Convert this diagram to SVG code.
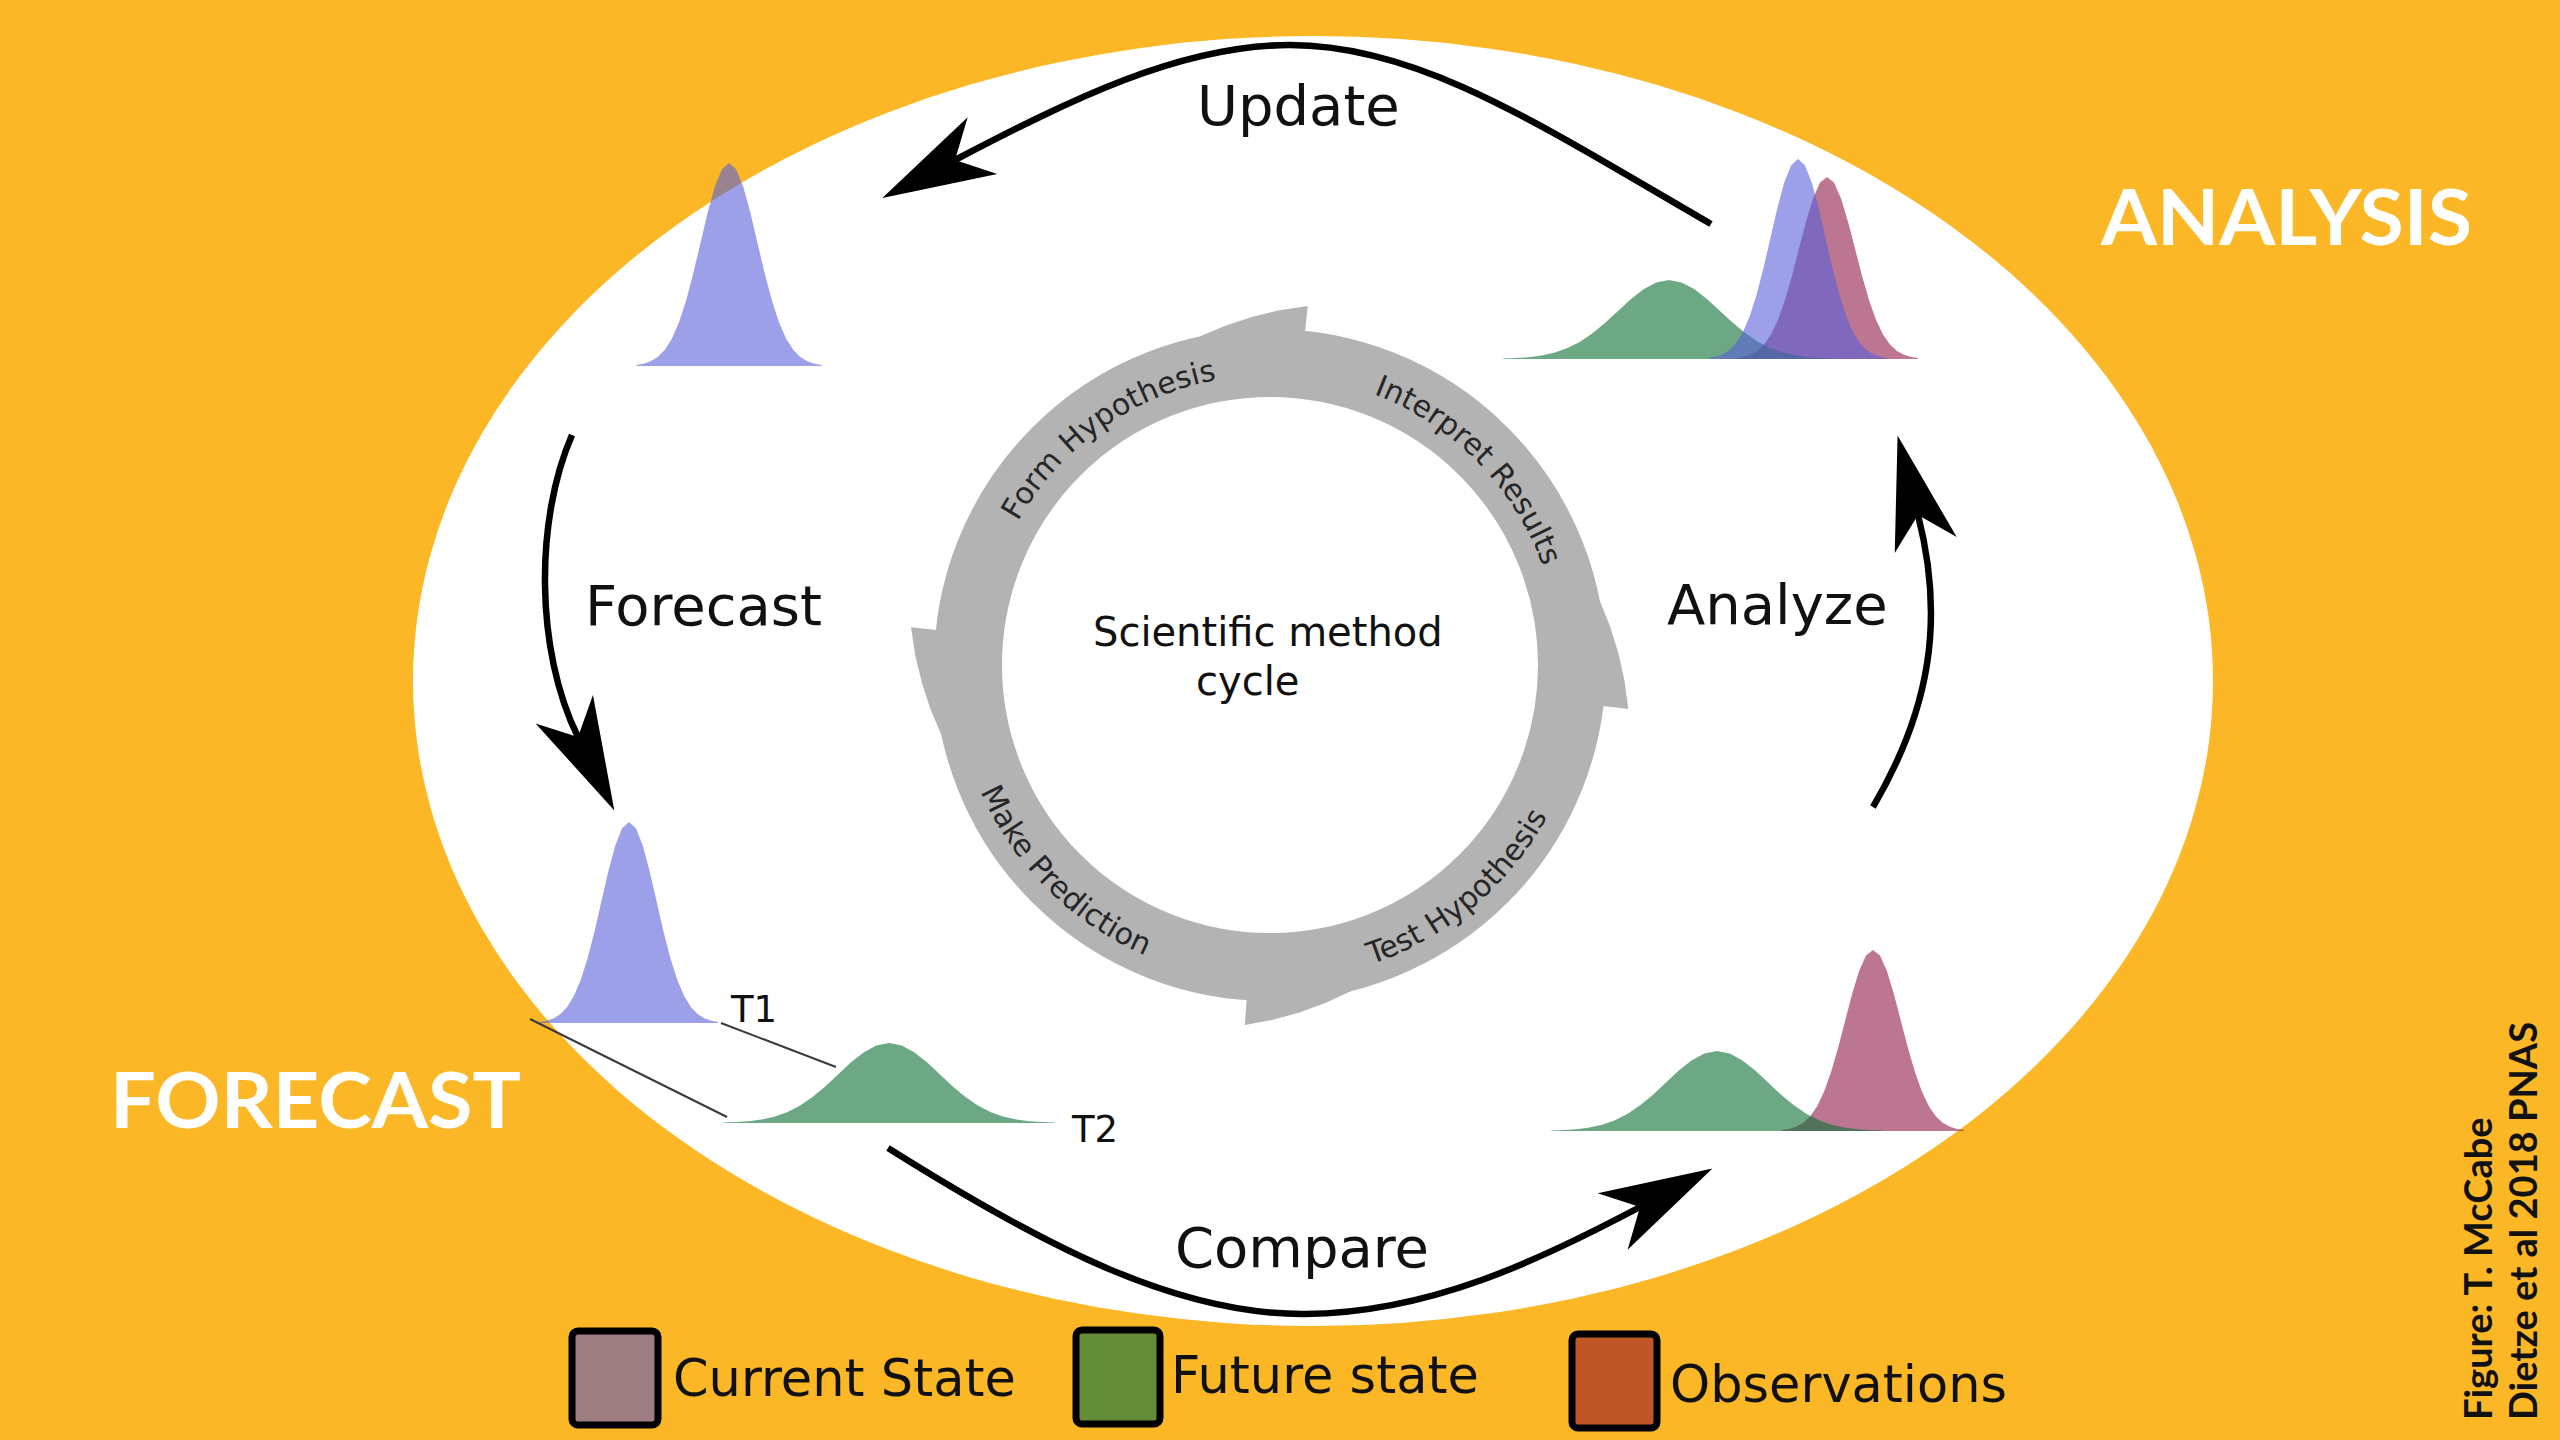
<svg xmlns="http://www.w3.org/2000/svg" width="2560" height="1440" viewBox="0 0 2560 1440">
<defs>
<style>
.lbl{font-family:"DejaVu Sans","Liberation Sans",sans-serif;fill:#111}
.big{font-size:56px}
.ringt{font-family:"DejaVu Sans","Liberation Sans",sans-serif;font-size:30px;fill:#262626}
.ctr{font-size:40px}
.tlab{font-size:37px}
.title{font-family:Lato,"Open Sans",sans-serif;font-weight:700;fill:#fff;font-size:76px}
.credit{font-family:Lato,"Open Sans",sans-serif;font-weight:700;fill:#111;font-size:38px}
.leg{font-size:51px}
.box{stroke:#000;stroke-width:7}
.conn{fill:none;stroke:#000;stroke-width:6.5}
.thin{fill:none;stroke:#3a3a3a;stroke-width:2}
.blue{fill:#5861d9;opacity:.6}
.green{fill:#0a6e32;opacity:.6}
.pink{fill:#8f1b49;opacity:.6}
.gray{fill:#b3b3b3}
</style>
<path id="gauss" d="M-3.25,0 L-3.25,-0.0051 L-3,-0.0111 L-2.75,-0.0228 L-2.5,-0.0439 L-2.25,-0.0796 L-2,-0.1353 L-1.75,-0.2163 L-1.5,-0.3247 L-1.25,-0.4578 L-1,-0.6065 L-0.75,-0.7548 L-0.5,-0.8825 L-0.25,-0.9692 L0,-1 L0.25,-0.9692 L0.5,-0.8825 L0.75,-0.7548 L1,-0.6065 L1.25,-0.4578 L1.5,-0.3247 L1.75,-0.2163 L2,-0.1353 L2.25,-0.0796 L2.5,-0.0439 L2.75,-0.0228 L3,-0.0111 L3.25,-0.0051 L3.25,0 Z"/>
<marker id="ah" markerUnits="userSpaceOnUse" orient="auto" refX="0" refY="0" markerWidth="200" markerHeight="200" overflow="visible">
<path d="M82,0 L-31,-32 L0,0 L-31,32 Z" fill="#000"/>
</marker>
<path id="barb" d="M1600,665 L1631,665 L1623.7,637.2 L1614.2,610.5 L1602.8,585.1 L1589.6,561.2 L1581.9,563.6 Z"/>
<path id="tp" d="M980,665 A290 290 0 1 1 1560,665 A290 290 0 1 1 980,665"/>
<path id="bp" d="M954,665 A316 316 0 1 0 1586,665 A316 316 0 1 0 954,665"/>
</defs>

<rect x="0" y="0" width="2560" height="1440" fill="#FBB726"/>
<ellipse cx="1313" cy="681" rx="900" ry="645" fill="#fff"/>

<g id="cycle">
<circle cx="1270" cy="665" r="302" fill="none" stroke="#b3b3b3" stroke-width="68"/>
<use href="#barb" class="gray" transform="rotate(7 1270 665)"/>
<use href="#barb" class="gray" transform="rotate(94 1270 665)"/>
<use href="#barb" class="gray" transform="rotate(186 1270 665)"/>
<use href="#barb" class="gray" transform="rotate(276 1270 665)"/>
<text class="ringt"><textPath href="#tp" startOffset="276" text-anchor="middle">Form Hypothesis</textPath></text>
<text class="ringt"><textPath href="#tp" startOffset="686" text-anchor="middle">Interpret Results</textPath></text>
<text class="ringt"><textPath href="#bp" startOffset="249" text-anchor="middle">Make Prediction</textPath></text>
<text class="ringt"><textPath href="#bp" startOffset="717" text-anchor="middle">Test Hypothesis</textPath></text>
<text class="lbl ctr" x="1093" y="646">Scientific method</text>
<text class="lbl ctr" x="1196" y="695">cycle</text>
</g>

<g id="prior-analysis">
<use href="#gauss" class="blue" transform="translate(729 366) scale(28.5 203)"/>
</g>

<g id="analysis-cluster">
<use href="#gauss" class="pink" transform="translate(1827 359) scale(28 182)"/>
<use href="#gauss" class="green" transform="translate(1669 359) scale(51 79)"/>
<use href="#gauss" class="blue" transform="translate(1798 359) scale(27.5 200)"/>
</g>

<g id="forecast-cluster">
<use href="#gauss" class="blue" transform="translate(629 1023) scale(27.5 201)"/>
<use href="#gauss" class="green" transform="translate(889 1123) scale(51 80)"/>
<text class="lbl tlab" x="731" y="1022">T1</text>
<text class="lbl tlab" x="1072" y="1142">T2</text>
</g>

<g id="compare-cluster">
<use href="#gauss" class="pink" transform="translate(1873 1131) scale(28 181)"/>
<use href="#gauss" class="green" transform="translate(1717 1131) scale(51 80)"/>
</g>

<g id="connectors">
<path class="conn" marker-end="url(#ah)" d="M1711,224 C1540,125 1420,45 1290,45 C1180,45 1070,100 955,160"/>
<path class="conn" marker-end="url(#ah)" d="M572,435 C535,520 535,650 578,737"/>
<path class="conn" marker-end="url(#ah)" d="M888,1148 C1050,1250 1180,1315 1305,1314 C1430,1313 1540,1260 1640,1207"/>
<path class="conn" marker-end="url(#ah)" d="M1873,807 C1930,710 1945,620 1918,515"/>
<line class="thin" x1="530" y1="1019" x2="727" y2="1117"/>
<line class="thin" x1="721" y1="1023" x2="836" y2="1067"/>
</g>

<g id="step-labels">
<text class="lbl big" x="1197" y="125">Update</text>
<text class="lbl big" x="585" y="625">Forecast</text>
<text class="lbl big" x="1667" y="624">Analyze</text>
<text class="lbl big" x="1175" y="1267">Compare</text>
</g>

<g id="titles">
<text class="title" x="2101" y="245" textLength="371" lengthAdjust="spacingAndGlyphs">ANALYSIS</text>
<text class="title" x="110" y="1128" textLength="411" lengthAdjust="spacingAndGlyphs">FORECAST</text>
</g>

<g id="legend">
<g id="legend-current">
<rect class="box" x="572" y="1331" width="86" height="94" rx="6" fill="#9d7c82"/>
<text class="lbl leg" x="673" y="1396">Current State</text>
</g>
<g id="legend-future">
<rect class="box" x="1076" y="1330" width="84" height="94" rx="6" fill="#658c38"/>
<text class="lbl leg" x="1171" y="1393">Future state</text>
</g>
<g id="legend-obs">
<rect class="box" x="1572" y="1334" width="85" height="94" rx="6" fill="#be5628"/>
<text class="lbl leg" x="1670" y="1402">Observations</text>
</g>
</g>

<g id="credits">
<text class="credit" transform="translate(2492 1420) rotate(-90)">Figure: T. McCabe</text>
<text class="credit" transform="translate(2537 1420) rotate(-90)">Dietze et al 2018 PNAS</text>
</g>
</svg>
